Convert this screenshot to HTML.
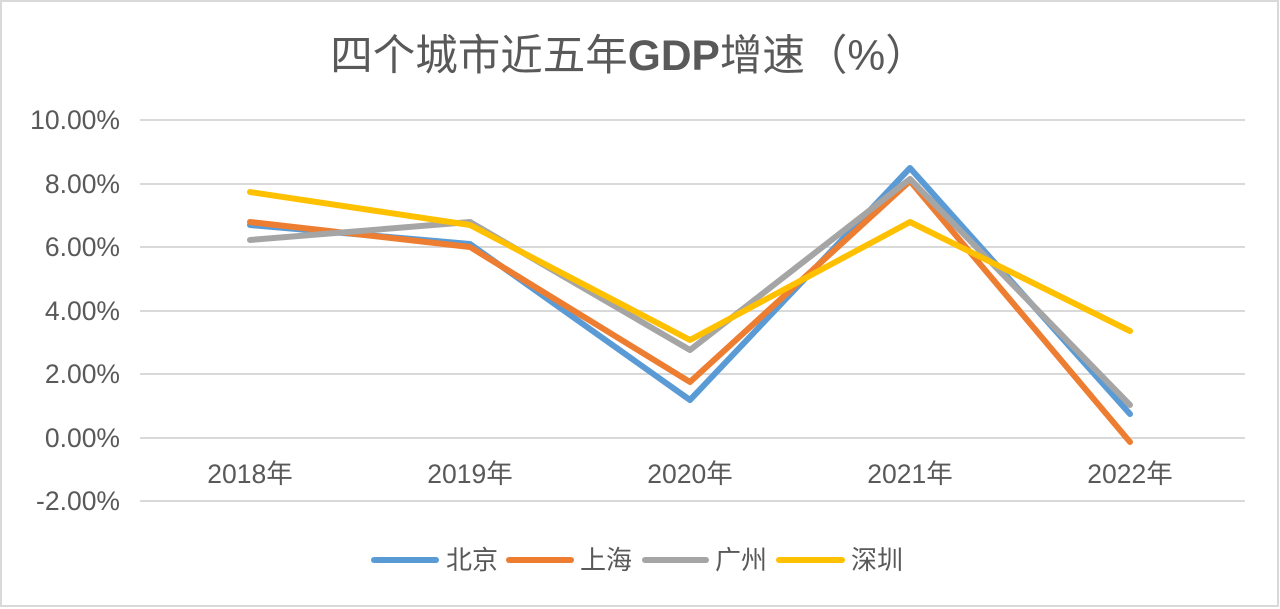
<!DOCTYPE html>
<html><head><meta charset="utf-8"><style>
body{margin:0;background:#fff;}
svg{display:block;font-family:"Liberation Sans","Noto Sans CJK SC",sans-serif;}
</style></head><body>
<svg width="1280" height="609" viewBox="0 0 1280 609">
<rect x="1" y="1" width="1277" height="605" fill="#fff" stroke="#d9d9d9" stroke-width="2"/>
<text x="629" y="70" text-anchor="middle" font-size="42.5" fill="#595959">四个城市近五年<tspan font-weight="bold">GDP</tspan>增速（%）</text>
<g stroke="#d9d9d9" stroke-width="2">
<line x1="140" x2="1245" y1="120" y2="120"/>
<line x1="140" x2="1245" y1="184" y2="184"/>
<line x1="140" x2="1245" y1="247" y2="247"/>
<line x1="140" x2="1245" y1="311" y2="311"/>
<line x1="140" x2="1245" y1="374" y2="374"/>
<line x1="140" x2="1245" y1="438" y2="438"/>
<line x1="140" x2="1245" y1="501" y2="501"/>
</g>
<g font-size="26.5" fill="#595959" text-anchor="end">
<text x="120" y="129">10.00%</text>
<text x="120" y="193">8.00%</text>
<text x="120" y="256">6.00%</text>
<text x="120" y="320">4.00%</text>
<text x="120" y="383">2.00%</text>
<text x="120" y="447">0.00%</text>
<text x="120" y="510">-2.00%</text>
</g>
<g font-size="26.5" fill="#595959" text-anchor="middle">
<text x="250" y="483">2018年</text>
<text x="470" y="483">2019年</text>
<text x="690" y="483">2020年</text>
<text x="910" y="483">2021年</text>
<text x="1130" y="483">2022年</text>
</g>
<g fill="none" stroke-width="6" stroke-linejoin="round" stroke-linecap="round">
<polyline stroke="#5b9bd5" points="250,225 470,244 690,400 910,168 1130,414"/>
<polyline stroke="#ed7d31" points="250,222 470,247 690,382 910,181 1130,442"/>
<polyline stroke="#a5a5a5" points="250,240 470,222 690,350 910,179 1130,405"/>
<polyline stroke="#ffc000" points="250,192 470,225 690,340 910,222 1130,331"/>
</g>
<g stroke-width="6" stroke-linecap="round">
<line x1="374" x2="436" y1="560" y2="560" stroke="#5b9bd5"/>
<line x1="509" x2="571" y1="560" y2="560" stroke="#ed7d31"/>
<line x1="645" x2="706" y1="560" y2="560" stroke="#a5a5a5"/>
<line x1="779" x2="842" y1="560" y2="560" stroke="#ffc000"/>
</g>
<g font-size="26" fill="#595959">
<text x="446" y="569">北京</text>
<text x="580" y="569">上海</text>
<text x="715" y="569">广州</text>
<text x="851" y="569">深圳</text>
</g>
</svg>
</body></html>
